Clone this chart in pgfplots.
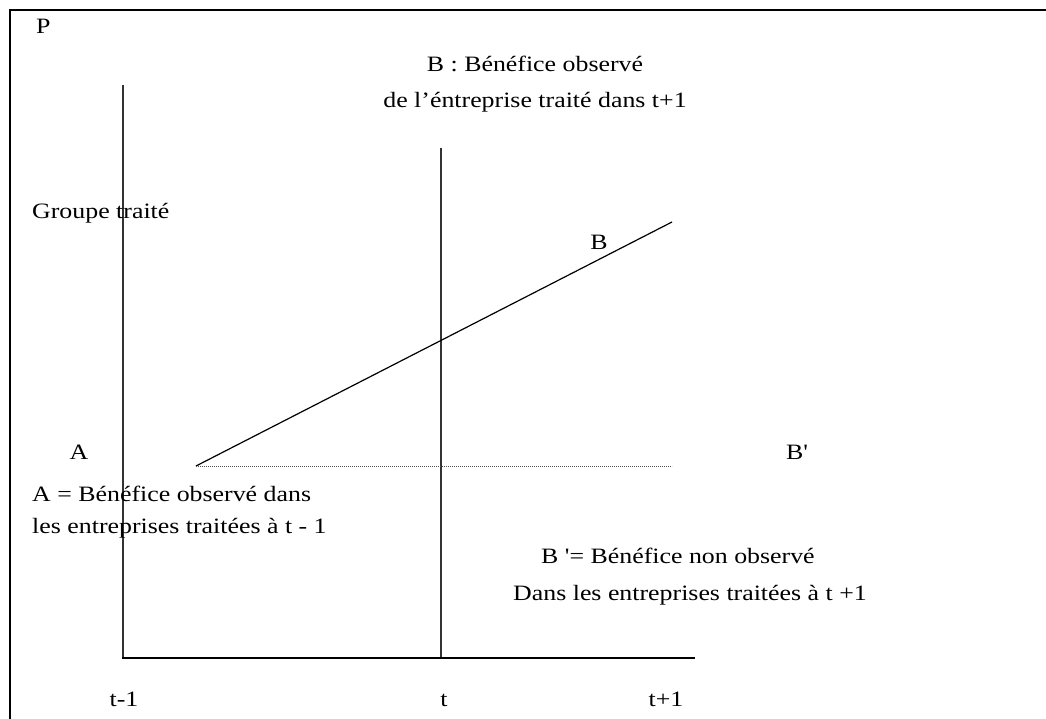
\documentclass[border=0pt]{standalone}
\usepackage{graphicx}
\usepackage{pgfplots}
\pgfplotsset{compat=1.18}
\usepackage{fontspec}
\setmainfont{Liberation Serif}
\newcommand\T[1]{\scalebox{1.18}[1]{\fontsize{22}{26}\selectfont #1}}
\begin{document}
\begin{tikzpicture}
\clip (0,0) rectangle (1046bp,719bp);
\begin{axis}[at={(0,0)}, anchor=south west, scale only axis, width=1046bp, height=719bp,
  xmin=0, xmax=1046, ymin=0, ymax=719, y dir=reverse, hide axis, clip=false]
% frame
\addplot[black, line width=2.8bp] coordinates {(10,725) (10,10) (1050,10)};
% axes
\addplot[black!80, line width=1.4bp] coordinates {(123,85) (123,658)};
\addplot[black!80, line width=1.4bp] coordinates {(441,148) (441,658)};
\addplot[black, line width=1.8bp] coordinates {(122,658) (695,658)};
% treated line
\addplot[black, line width=1.2bp] coordinates {(196,466) (672,222)};
% counterfactual (dotted)
\addplot[black!70, line width=1bp, dash pattern=on 1.2bp off 0.8bp] coordinates {(196,466) (672,466)};
% texts
\node[anchor=base west, inner sep=0pt] at (axis cs:36,34) {\T{P}};
\node[anchor=base, inner sep=0pt] at (axis cs:535,72) {\T{B : Bénéfice observé}};
\node[anchor=base, inner sep=0pt] at (axis cs:535,108) {\T{de l’éntreprise traité dans t+1}};
\node[anchor=base west, inner sep=0pt] at (axis cs:32,218) {\T{Groupe traité}};
\node[anchor=base, inner sep=0pt] at (axis cs:599,249) {\T{B}};
\node[anchor=base, inner sep=0pt] at (axis cs:79,459) {\T{A}};
\node[anchor=base, inner sep=0pt] at (axis cs:797,459) {\T{B\textquotesingle}};
\node[anchor=base west, inner sep=0pt] at (axis cs:32,501) {\T{A = Bénéfice observé dans}};
\node[anchor=base west, inner sep=0pt] at (axis cs:32,533) {\T{les entreprises traitées à t - 1}};
\node[anchor=base west, inner sep=0pt] at (axis cs:541,563) {\T{B \textquotesingle= Bénéfice non observé}};
\node[anchor=base west, inner sep=0pt] at (axis cs:513,600) {\T{Dans les entreprises traitées à t +1}};
\node[anchor=base, inner sep=0pt] at (axis cs:124,706) {\T{t-1}};
\node[anchor=base, inner sep=0pt] at (axis cs:444,706) {\T{t}};
\node[anchor=base, inner sep=0pt] at (axis cs:666,706) {\T{t+1}};
\end{axis}
\end{tikzpicture}
\end{document}
